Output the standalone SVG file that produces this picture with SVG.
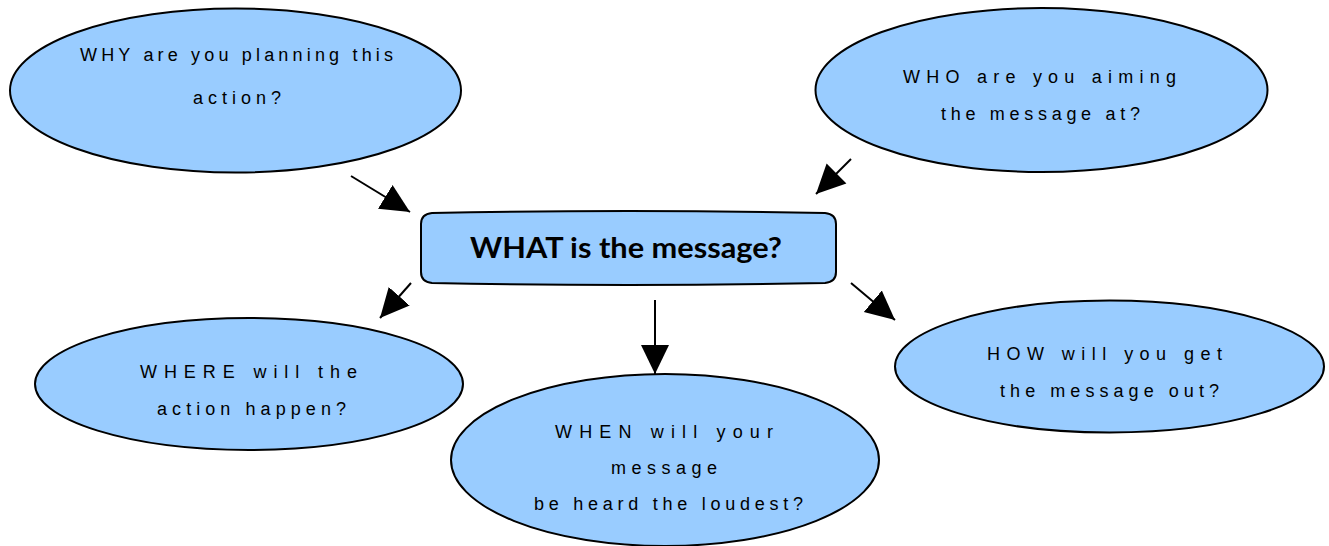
<svg xmlns="http://www.w3.org/2000/svg" width="1329" height="546" viewBox="0 0 1329 546">
<style>
.node{fill:#99ccff;stroke:#000;stroke-width:2}
.t{font-family:"Liberation Sans",Arial,sans-serif;font-size:18px;fill:#000;text-anchor:start}
.main{font-family:Lato,"DejaVu Sans",sans-serif;font-weight:bold;font-size:29px;fill:#000}
.c{stroke:#000;stroke-width:2;fill:none}
</style>
<defs>
<marker id="ah" markerUnits="userSpaceOnUse" markerWidth="30" markerHeight="30" refX="29" refY="14" orient="auto" viewBox="0 0 30 28">
<path d="M0,0 L29,14 L0,28 z" fill="#000"/>
</marker>
</defs>
<rect width="1329" height="546" fill="#fff"/>
<g id="why">
<ellipse class="node" cx="235.5" cy="90.5" rx="225.5" ry="82"/>
<text class="t" x="80" y="61" textLength="313" lengthAdjust="spacing">WHY are you planning this</text>
<text class="t" x="193" y="104" textLength="88" lengthAdjust="spacing">action?</text>
</g>
<g id="who">
<ellipse class="node" cx="1041.5" cy="90" rx="226" ry="82"/>
<text class="t" x="903" y="83" textLength="273" lengthAdjust="spacing">WHO are you aiming</text>
<text class="t" x="941" y="120" textLength="199" lengthAdjust="spacing">the message at?</text>
</g>
<g id="what">
<path class="node" d="M432,213 Q628,209 825,213 Q836,214 836,224 L836,272 Q836,282 825,283 Q628,287 432,283 Q421,282 421,272 L421,224 Q421,214 432,213 z"/>
<text class="main" x="470" y="258" textLength="312" lengthAdjust="spacingAndGlyphs">WHAT is the message?</text>
</g>
<g id="where">
<ellipse class="node" cx="249" cy="384" rx="214" ry="66"/>
<text class="t" x="140" y="378" textLength="217" lengthAdjust="spacing">WHERE will the</text>
<text class="t" x="157" y="415" textLength="189" lengthAdjust="spacing">action happen?</text>
</g>
<g id="when">
<ellipse class="node" cx="665" cy="460" rx="214" ry="86"/>
<text class="t" x="555" y="438" textLength="218" lengthAdjust="spacing">WHEN will your</text>
<text class="t" x="611" y="474" textLength="106" lengthAdjust="spacing">message</text>
<text class="t" x="534" y="510" textLength="269" lengthAdjust="spacing">be heard the loudest?</text>
</g>
<g id="how">
<ellipse class="node" cx="1109.5" cy="366.5" rx="214.5" ry="66"/>
<text class="t" x="987" y="360" textLength="235" lengthAdjust="spacing">HOW will you get</text>
<text class="t" x="1000" y="397" textLength="219" lengthAdjust="spacing">the message out?</text>
</g>
<g id="connectors">
<line class="c" x1="351" y1="176" x2="410" y2="212" marker-end="url(#ah)"/>
<line class="c" x1="851" y1="159" x2="816" y2="194" marker-end="url(#ah)"/>
<line class="c" x1="411" y1="283" x2="380" y2="318" marker-end="url(#ah)"/>
<line class="c" x1="655" y1="300" x2="655" y2="374" marker-end="url(#ah)"/>
<line class="c" x1="851" y1="283" x2="895" y2="320" marker-end="url(#ah)"/>
</g>
</svg>
